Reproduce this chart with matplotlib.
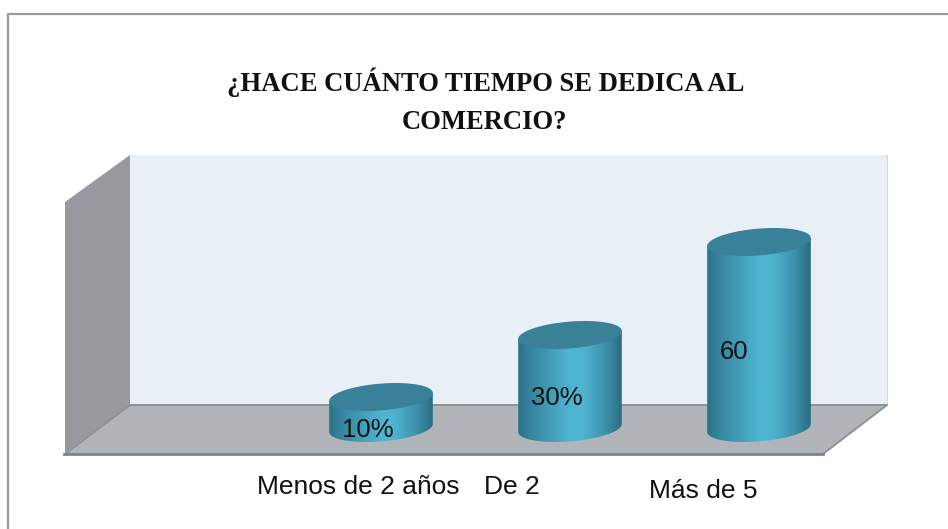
import numpy as np
import matplotlib
matplotlib.use("Agg")
import matplotlib.pyplot as plt
from matplotlib.patches import Polygon

# Datos
categorias = ["Menos de 2 años", "De 2", "Más de 5"]
valores = [10, 30, 60]
etiquetas = ["10%", "30%", "60"]
titulo = ["¿HACE CUÁNTO TIEMPO SE DEDICA AL", "COMERCIO?"]

W, H = 948, 529
fig = plt.figure(figsize=(W / 100, H / 100), dpi=100)

# eje de fondo en pixeles
bg = fig.add_axes([0, 0, 1, 1])
bg.set_xlim(0, W)
bg.set_ylim(H, 0)
bg.axis("off")

# eje de los datos: categoria 0 en x=381, cada una 189 px; valor 0 en y=428, 3.1 px por unidad
ax = fig.add_axes([0, 0, 1, 1])
ax.set_xlim(-381 / 189, (W - 381) / 189)
ax.set_ylim(-(H - 428) / 3.1, 428 / 3.1)
ax.axis("off")
ax.patch.set_alpha(0)


def a_pixel(x, y):
    return bg.transData.inverted().transform(ax.transData.transform((x, y)))


# marco, solo arriba y a la izquierda
bg.plot([8.5, 8.5, W], [H, 13.5, 13.5], color="#9a9a9a", lw=1.6, zorder=1)

# paredes y piso
bg.add_patch(Polygon([(130, 155), (887, 155), (887, 405), (130, 405)], fc="#e8eff6", ec="none", zorder=2))
bg.plot([887, 887], [155, 405], color="#d5d8dc", lw=0.8, zorder=2)
bg.add_patch(Polygon([(65, 202), (130, 155), (130, 405), (65, 453)], fc="#96999d", ec="none", zorder=2))
bg.add_patch(Polygon([(65, 454), (130, 405), (887, 405), (823, 454)], fc="#b1b5b9", ec="none", zorder=2))
bg.plot([65, 130, 887, 823], [454, 405, 405, 454], color="#8f9295", lw=1.4, zorder=3)
bg.plot([64, 823], [454, 454], color="#808285", lw=2, zorder=3)

# gradiente horizontal del cilindro
stops = [0, 0.12, 0.5, 0.62, 0.85, 1]
cols = np.array([[0x2c, 0x72, 0x8a], [0x37, 0x85, 0x9f], [0x4e, 0xb5, 0xd1],
                 [0x4e, 0xb5, 0xd1], [0x3c, 0x90, 0xaa], [0x2b, 0x6c, 0x80]]) / 255
xs = np.linspace(0, 1, 256)
grad = np.stack([np.interp(xs, stops, cols[:, c]) for c in range(3)], axis=1)[None, :, :]

A, B, S = 51.8, 13.4, 4.0
t = np.linspace(0, 2 * np.pi, 200)

for i, v in enumerate(valores):
    cx, y_base = a_pixel(i, 0)
    _, y_top = a_pixel(i, v)
    ex = cx + A * np.cos(t)
    ey = B * np.sin(t) - S * np.cos(t)
    # cuerpo
    t_low = np.linspace(0, np.pi, 100)
    bx = cx + A * np.cos(t_low)
    by = y_base + B * np.sin(t_low) - S * np.cos(t_low)
    cuerpo = np.column_stack([np.r_[cx + A, bx, cx - A], np.r_[y_top - S, by, y_top + S]])
    im = bg.imshow(grad, extent=(cx - A, cx + A, y_base + 20, y_top - 20), aspect="auto", zorder=4)
    bg.set_xlim(0, W)
    bg.set_ylim(H, 0)
    clip = Polygon(cuerpo, fc="none", ec="none", transform=bg.transData)
    bg.add_patch(clip)
    im.set_clip_path(clip)
    # tapa
    bg.add_patch(Polygon(np.column_stack([ex, y_top + ey]), fc="#388198", ec="none", zorder=5))

# etiquetas de los datos
pos_etq = [(368, 430), (557, 398), (734, 352)]
for (x, y), e in zip(pos_etq, etiquetas):
    bg.text(x, y, e, family="Liberation Sans", fontsize=18.5, ha="center", va="center", color="#111111", zorder=6)

# categorias
pos_cat = [(358, 487), (512, 487), (703, 491)]
for (x, y), c in zip(pos_cat, categorias):
    bg.text(x, y, c, family="Liberation Sans", fontsize=19, ha="center", va="center", color="#111111", zorder=6)

# titulo
bg.text(486, 82, titulo[0], family="Liberation Serif", fontsize=19.2, fontweight="bold", ha="center", va="center", color="#111111", zorder=6)
bg.text(484.5, 122.5, titulo[1], family="Liberation Serif", fontsize=19.2, fontweight="bold", ha="center", va="center", color="#111111", zorder=6)

fig.savefig("out.png", dpi=100)
